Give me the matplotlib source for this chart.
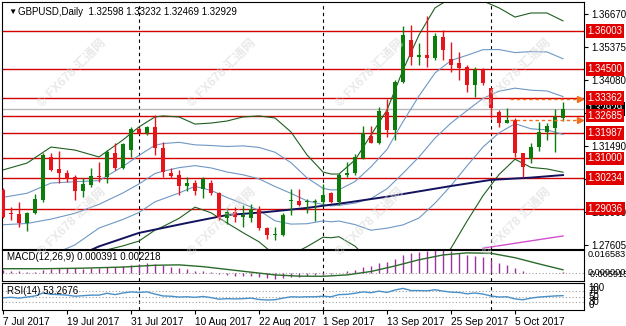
import matplotlib.pyplot as plt
import matplotlib.transforms as mtransforms

plt.rcParams['font.family'] = ['Liberation Sans', 'DejaVu Sans', 'Noto Sans CJK SC']

# GBPUSD daily bars, index 0 = 7 Jul 2017 ... 70 = 13 Oct 2017
opens = [1.2976, 1.2888, 1.2882, 1.2847, 1.2886, 1.2937, 1.3106, 1.3059, 1.3043, 1.3027,
         1.2972, 1.2996, 1.3031, 1.3027, 1.3122, 1.3063, 1.3133, 1.3216, 1.3200, 1.3224,
         1.3141, 1.3043, 1.3035, 1.2992, 1.3004, 1.2980, 1.3004, 1.2965, 1.2867, 1.2890,
         1.2870, 1.2867, 1.2902, 1.2827, 1.2800, 1.2800, 1.2933, 1.2933, 1.2929, 1.2929,
         1.2929, 1.2965, 1.2929, 1.3035, 1.3043, 1.3102, 1.3188, 1.3161, 1.3282, 1.3212,
         1.3400, 1.3565, 1.3498, 1.3506, 1.3494, 1.3577, 1.3490, 1.3475, 1.3459, 1.3388,
         1.3447, 1.3377, 1.3282, 1.3239, 1.3251, 1.3122, 1.3098, 1.3145, 1.3204, 1.3220,
         1.32598]
highs = [1.2984, 1.2910, 1.2929, 1.2890, 1.2961, 1.3122, 1.3122, 1.3129, 1.3055, 1.3035,
         1.3024, 1.3063, 1.3086, 1.3133, 1.3161, 1.3161, 1.3224, 1.3224, 1.3228, 1.3271,
         1.3165, 1.3063, 1.3055, 1.3027, 1.3016, 1.3027, 1.3016, 1.2969, 1.2906, 1.2910,
         1.2918, 1.2921, 1.2914, 1.2831, 1.2831, 1.2886, 1.2980, 1.2980, 1.2941, 1.2941,
         1.3000, 1.2969, 1.3043, 1.3086, 1.3118, 1.3228, 1.3228, 1.3302, 1.3333, 1.3408,
         1.3620, 1.3624, 1.3553, 1.3659, 1.3592, 1.3604, 1.3557, 1.3518, 1.3467, 1.3459,
         1.3455, 1.3377, 1.3290, 1.3298, 1.3259, 1.3122, 1.3161, 1.3243, 1.3239, 1.3294,
         1.33232]
lows = [1.2866, 1.2859, 1.2831, 1.2816, 1.2882, 1.2930, 1.3050, 1.3004, 1.3008, 1.2937,
        1.2949, 1.2988, 1.3008, 1.3004, 1.3055, 1.3060, 1.3106, 1.3196, 1.3192, 1.3114,
        1.3027, 1.3024, 1.2957, 1.2972, 1.2957, 1.2945, 1.2957, 1.2859, 1.2843, 1.2851,
        1.2831, 1.2851, 1.2819, 1.2784, 1.2780, 1.2796, 1.2878, 1.2914, 1.2886, 1.2855,
        1.2918, 1.2925, 1.2918, 1.3027, 1.3035, 1.3098, 1.3161, 1.3158, 1.3184, 1.3173,
        1.3396, 1.3467, 1.3467, 1.3459, 1.3486, 1.3486, 1.3439, 1.3408, 1.3361, 1.3341,
        1.3388, 1.3259, 1.3224, 1.3239, 1.3106, 1.3027, 1.3082, 1.3129, 1.3173, 1.3125,
        1.32469]
closes = [1.2870, 1.2884, 1.2847, 1.2886, 1.2941, 1.3114, 1.3055, 1.3043, 1.3020, 1.2972,
          1.3000, 1.3031, 1.3027, 1.3125, 1.3063, 1.3157, 1.3216, 1.3200, 1.3224, 1.3141,
          1.3047, 1.3031, 1.2992, 1.3004, 1.2972, 1.3020, 1.2965, 1.2867, 1.2890, 1.2870,
          1.2878, 1.2902, 1.2827, 1.2800, 1.2804, 1.2878, 1.2937, 1.2918, 1.2933, 1.2933,
          1.2957, 1.2929, 1.3035, 1.3043, 1.3106, 1.3200, 1.3161, 1.3286, 1.3212, 1.3400,
          1.3585, 1.3498, 1.3506, 1.3494, 1.3581, 1.3526, 1.3467, 1.3455, 1.3388, 1.3447,
          1.3396, 1.3298, 1.3239, 1.3251, 1.3122, 1.3067, 1.3145, 1.3204, 1.3228, 1.3263,
          1.32929]

date_ticks = [0, 8, 16, 24, 32, 40, 48, 56, 64]
date_labels = ['7 Jul 2017', '19 Jul 2017', '31 Jul 2017', '10 Aug 2017', '22 Aug 2017',
               '1 Sep 2017', '13 Sep 2017', '25 Sep 2017', '5 Oct 2017']
month_starts = [17, 40, 61]

levels = [1.36003, 1.34500, 1.33362, 1.32685, 1.31987, 1.31000, 1.30234, 1.29036]
price_ticks = [1.36670, 1.35375, 1.34080, 1.32785, 1.31490, 1.30195, 1.28900, 1.27605]
hidden_ticks = [1.32785, 1.30195]   # fully covered by the level boxes
bid = 1.32929

# Bollinger middle and outer upper band
bb_idx = [0, 3, 6, 9, 12, 15, 17, 19, 20, 22, 24, 26, 28, 30, 32, 34, 36, 38, 40, 41, 42,
          44, 46, 48, 50, 52, 54, 56, 58, 60, 62, 64, 66, 68, 70]
bb_mid = [1.2840, 1.2845, 1.2862, 1.2885, 1.2920, 1.2965, 1.3000, 1.3041, 1.3050, 1.3064,
          1.3072, 1.3063, 1.3047, 1.3036, 1.3020, 1.2990, 1.2963, 1.2934, 1.2919, 1.2914,
          1.2916, 1.2925, 1.2943, 1.2981, 1.3042, 1.3106, 1.3180, 1.3239, 1.3288, 1.3336,
          1.3364, 1.3376, 1.3368, 1.3365, 1.3343]
bb_up = [1.3055, 1.3082, 1.3145, 1.3133, 1.3106, 1.3173, 1.3224, 1.3263, 1.3267, 1.3263,
         1.3235, 1.3239, 1.3247, 1.3263, 1.3267, 1.3259, 1.3204, 1.3114, 1.3047, 1.3039,
         1.3039, 1.3094, 1.3192, 1.3290, 1.3447, 1.3585, 1.3691, 1.3730, 1.3722, 1.3718,
         1.3691, 1.3655, 1.3671, 1.3671, 1.3640]

ma_idx = [11, 12, 17, 23, 28, 33, 38, 43, 48, 56, 61, 66, 70]
ma_val = [1.2741, 1.2755, 1.2808, 1.2847, 1.2878, 1.2890, 1.2906, 1.2927, 1.2950, 1.2992,
          1.3016, 1.3025, 1.3035]
ma2_idx = [60, 65, 70]
ma2_val = [1.2748, 1.2772, 1.2796]

macd = [0.0018, 0.0015, 0.0010, 0.0008, 0.0009, 0.0024, 0.0031, 0.0035, 0.0036, 0.0032,
        0.0031, 0.0032, 0.0032, 0.0040, 0.0042, 0.0050, 0.0059, 0.0064, 0.0069, 0.0065,
        0.0054, 0.0044, 0.0033, 0.0025, 0.0016, 0.0012, 0.0005, -0.0006, -0.0013, -0.0020,
        -0.0024, -0.0025, -0.0032, -0.0039, -0.0043, -0.0040, -0.0032, -0.0027, -0.0022, -0.0018,
        -0.0013, -0.0011, 0.0001, 0.0011, 0.0024, 0.0041, 0.0051, 0.0069, 0.0076, 0.0097,
        0.0127, 0.0142, 0.0153, 0.0159, 0.0166, 0.0164, 0.0156, 0.0147, 0.0133, 0.0125,
        0.0113, 0.0094, 0.0074, 0.0058, 0.0035, 0.0012, 0.0002, -0.0002, -0.0002, 0.0001,
        0.000391]
sig_idx = [0, 5, 10, 15, 19, 22, 25, 28, 31, 34, 37, 40, 43, 46, 49, 52, 55, 58, 61, 64, 67, 70]
sig_val = [0.0030, 0.0030, 0.0034, 0.0042, 0.0055, 0.0058, 0.0045, 0.0025, 0.0005, -0.0015,
           -0.0024, -0.0025, -0.0015, 0.0010, 0.0050, 0.0095, 0.0130, 0.0145, 0.0142, 0.0110,
           0.0065, 0.002218]

rsi = [45, 47, 44, 48, 52, 63, 58, 57, 55, 51, 53, 55, 55, 62, 57, 63, 67, 65, 67, 59,
       52, 51, 48, 49, 47, 50, 46, 40, 42, 41, 42, 44, 39, 37, 38, 44, 49, 48, 49, 49,
       51, 49, 57, 58, 62, 67, 64, 70, 65, 74, 80, 72, 72, 71, 75, 70, 66, 65, 60, 63,
       59, 52, 48, 49, 41, 38, 44, 48, 50, 52, 53.2676]

GREEN = '#0b7d0b'
RED = '#e8141b'
W, H = 626, 326


def box(l, t, r, b):
    return [l / W, 1 - b / H, (r - l) / W, (b - t) / H]


fig = plt.figure(figsize=(W / 100, H / 100), dpi=100)
ax = fig.add_axes(box(2, 2, 584, 249))
axm = fig.add_axes(box(2, 250, 584, 281))
axr = fig.add_axes(box(2, 283, 584, 310))

xl = (-0.125, 72.625)
for a in (ax, axm, axr):
    a.set_xlim(*xl)
    for s in a.spines.values():
        s.set_linewidth(0.8)
        s.set_color('black')
    a.set_xticks([])
    for m in month_starts:
        a.axvline(m, color='black', lw=0.8, ls=(0, (3, 3)), zorder=1)

# ---- main price panel
ax.set_ylim(1.27448, 1.37141)
for lv in levels:
    ax.axhline(lv, color='#d40000', lw=1, zorder=1)
ax.axhline(bid, color='#b8b8b8', lw=1, zorder=1)

half = [u - m for u, m in zip(bb_up, bb_mid)]
ax.plot(bb_idx, bb_up, color='#1f5f1f', lw=0.8, zorder=2)
ax.plot(bb_idx, [m - h for m, h in zip(bb_mid, half)], color='#1f5f1f', lw=0.8, zorder=2)
ax.plot(bb_idx, [m + h / 2 for m, h in zip(bb_mid, half)], color='#6f98c4', lw=0.8, zorder=2)
ax.plot(bb_idx, [m - h / 2 for m, h in zip(bb_mid, half)], color='#6f98c4', lw=0.8, zorder=2)
ax.plot(bb_idx, bb_mid, color='#6f98c4', lw=0.8, zorder=2)
ax.plot(ma_idx, ma_val, color='#12125e', lw=1.4, zorder=2)
ax.plot(ma2_idx, ma2_val, color='#d050d0', lw=1, zorder=2)

for i in range(len(opens)):
    o, h, l, c = opens[i], highs[i], lows[i], closes[i]
    col = GREEN if c >= o else RED
    ax.vlines(i, l, h, color=col, lw=1, zorder=3)
    ax.bar(i, max(abs(c - o), 0.00025), bottom=min(o, c), width=0.62, color=col, lw=0, zorder=3)

# dashed arrows on the right
for lv in (1.3334, 1.3250):
    ax.plot([63.4, 72.0], [lv, lv], color='#f07020', lw=1, ls=(0, (2.5, 2)), zorder=3)
    ax.plot([72.1], [lv], marker='>', color='#f07020', ms=5, zorder=3, clip_on=False)

ax.yaxis.tick_right()
ax.set_yticks(price_ticks)
ax.set_yticklabels(['' if v in hidden_ticks else f'{v:.5f}' for v in price_ticks])
ax.tick_params(axis='y', length=3, width=0.8, pad=2, labelsize=7)

ytr = mtransforms.blended_transform_factory(ax.transAxes, ax.transData)
ax.text(1.006, bid, f'{bid:.5f}', transform=ytr, color='white', fontsize=7, va='center',
        ha='left', zorder=6, clip_on=False,
        bbox=dict(boxstyle='square,pad=0.2', fc='black', ec='none'))
for lv in levels:
    ax.text(1.006, lv, f'{lv:.5f}', transform=ytr, color='white', fontsize=7, va='center',
            ha='left', zorder=7, clip_on=False,
            bbox=dict(boxstyle='square,pad=0.2', fc='#e00000', ec='none'))

ax.text(6 / 582, 0.958, '\u25bc', transform=ax.transAxes, fontsize=6, va='center', ha='left')
ax.text(16 / 582, 0.958, 'GBPUSD,Daily  1.32598 1.33232 1.32469 1.32929',
        transform=ax.transAxes, fontsize=7, va='center', ha='left')

# ---- MACD panel
axm.set_ylim(-0.005915, 0.016583)
axm.axhline(0, color='#a0a0a0', lw=0.8, ls=(0, (1, 2)))
axm.vlines(range(len(macd)), 0, macd, color='#a0309a', lw=1)
axm.plot(sig_idx, sig_val, color='#2a6a2a', lw=1)
axm.set_yticks([])
mtr = mtransforms.blended_transform_factory(axm.transAxes, axm.transData)
axm.text(1.006, 0.016583, '0.016583', transform=mtr, fontsize=6.6, va='top', ha='left')
axm.text(1.006, 0.0, '0.000000', transform=mtr, fontsize=6.6, va='center', ha='left')
axm.text(1.006, -0.0009, '-0.005915', transform=mtr, fontsize=6.6, va='center', ha='left')
axm.text(5 / 582, 0.78, 'MACD(12,26,9) 0.000391 0.002218', transform=axm.transAxes,
         fontsize=7, va='center', ha='left')

# ---- RSI panel
axr.set_ylim(0, 100)
for lv in (70, 50, 30):
    axr.axhline(lv, color='#a0a0a0', lw=0.8, ls=(0, (1, 2)))
axr.plot(range(len(rsi)), rsi, color='#4a90c8', lw=1)
axr.set_yticks([])
rtr = mtransforms.blended_transform_factory(axr.transAxes, axr.transData)
axr.text(1.008, 100, '100', transform=rtr, fontsize=7, va='top', ha='left')
for lv in (70, 50, 30):
    axr.text(1.008, lv, str(lv), transform=rtr, fontsize=7, va='center', ha='left')
axr.text(1.008, 0, '0', transform=rtr, fontsize=7, va='bottom', ha='left')
axr.text(5 / 582, 0.72, 'RSI(14) 53.2676', transform=axr.transAxes, fontsize=7,
         va='center', ha='left')

axr.set_xticks(date_ticks)
axr.set_xticklabels(date_labels, fontsize=7.3)
for t in axr.get_xticklabels():
    t.set_horizontalalignment('left')
axr.tick_params(axis='x', length=3, width=0.8, pad=2)

# watermarks
for cx in (72, 222, 370, 517):
    for cy in (73, 222):
        fig.text(cx / W, 1 - cy / H, '\u00a9 FX678 \u6c47\u901a\u7f51', rotation=45,
                 rotation_mode='anchor', ha='center', va='center', fontsize=9,
                 fontweight='bold', color='#d8d8d8', alpha=0.55, zorder=10)

fig.savefig('out.png', dpi=100)
